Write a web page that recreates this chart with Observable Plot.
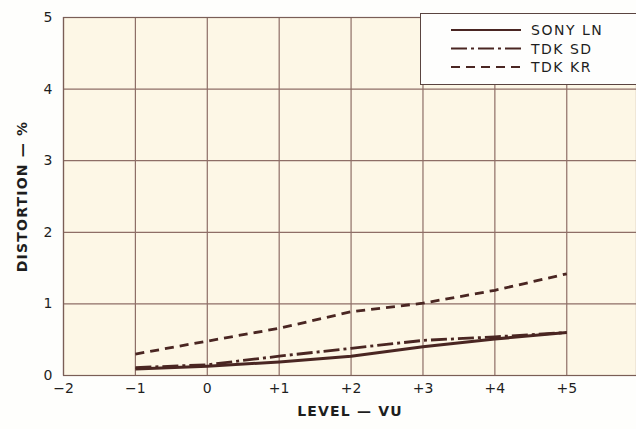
<!DOCTYPE html>
<html>
<head>
<meta charset="utf-8">
<script src="https://cdn.jsdelivr.net/npm/d3@7"></script>
<script src="https://cdn.jsdelivr.net/npm/@observablehq/plot@0.6"></script>
<style>
  html, body { margin: 0; padding: 0; background: #fefefc; }
  #wrap { position: relative; width: 636px; height: 429px; overflow: hidden; }
  #legend { position: absolute; left: 420px; top: 13px; width: 230px; height: 72px;
    background: #fefefd; border: 1.2px solid #5a4440; box-sizing: border-box; }
  #legend svg { display: block; }
</style>
</head>
<body>
<div id="wrap"></div>
<script>
const levels = [-1, 0, 1, 2, 3, 4, 5];
const sonyLN = [0.09, 0.13, 0.19, 0.27, 0.40, 0.51, 0.60];
const tdkSD  = [0.11, 0.15, 0.27, 0.38, 0.49, 0.54, 0.60];
const tdkKR  = [0.30, 0.48, 0.66, 0.89, 1.01, 1.19, 1.42];
const seriesNames = ["SONY LN", "TDK SD", "TDK KR"];
const xTicks = [-2, -1, 0, 1, 2, 3, 4, 5];
const yTicks = [0, 1, 2, 3, 4, 5];

const lineColor = "#4a2622";
const gridColor = "#8e6e66";
const dashes = { "SONY LN": null, "TDK SD": "16,4,3,4", "TDK KR": "9,6" };

const rows = [];
[sonyLN, tdkSD, tdkKR].forEach((vals, i) => {
  levels.forEach((l, j) => rows.push({ series: seriesNames[i], level: l, value: vals[j] }));
});

const fmtX = d => d > 0 ? "+" + d : d < 0 ? "\u2212" + (-d) : "0";
const fmtY = d => String(d);

const chart = Plot.plot({
  width: 636,
  height: 429,
  marginLeft: 63,
  marginRight: 0,
  marginTop: 17,
  marginBottom: 54,
  style: { fontFamily: "'DejaVu Sans', sans-serif", fontSize: "14px", color: "#1e1e1e", background: "transparent" },
  x: { domain: [-2, 5.97], ticks: xTicks, tickFormat: fmtX },
  y: { domain: [0, 5], ticks: yTicks, tickFormat: fmtY },
  marks: [
    Plot.frame({ fill: "#fdf7e6", stroke: null }),
    Plot.gridX(xTicks, { stroke: gridColor, strokeOpacity: 1, strokeWidth: 1.2 }),
    Plot.gridY(yTicks, { stroke: gridColor, strokeOpacity: 1, strokeWidth: 1.2 }),
    Plot.frame({ stroke: "#7a5e56", strokeWidth: 1.2 }),
    ...seriesNames.map(name => Plot.line(rows.filter(r => r.series === name), {
      x: "level", y: "value",
      stroke: lineColor,
      strokeWidth: name === "SONY LN" ? 3 : 2.8,
      strokeDasharray: dashes[name],
      strokeLinecap: "butt"
    })),
    Plot.axisX({ ticks: xTicks, tickFormat: fmtX, tickSize: 0, tickPadding: 8,
      label: "LEVEL \u2014 VU", labelAnchor: "center", labelOffset: 40, labelArrow: "none" }),
    Plot.axisY({ ticks: yTicks, tickFormat: fmtY, tickSize: 0, tickPadding: 11,
      label: "DISTORTION \u2014 %", labelAnchor: "center", labelOffset: 46, labelArrow: "none" })
  ]
});

d3.select(chart).selectAll("[aria-label='x-axis label'] text, [aria-label='y-axis label'] text")
  .attr("font-weight", "bold").attr("letter-spacing", "1.2px").attr("font-size", "14px");

const wrap = document.getElementById("wrap");
wrap.appendChild(chart);

// Legend
const legend = document.createElement("div");
legend.id = "legend";
wrap.appendChild(legend);
const lsvg = d3.select(legend).append("svg").attr("width", 230).attr("height", 72);
seriesNames.forEach((name, i) => {
  const y = 16 + i * 18.5;
  lsvg.append("line").attr("x1", 30).attr("x2", 100).attr("y1", y).attr("y2", y)
    .attr("stroke", lineColor).attr("stroke-width", 2.2)
    .attr("stroke-dasharray", dashes[name]);
  lsvg.append("text").attr("x", 110).attr("y", y + 5).text(name)
    .attr("font-family", "'DejaVu Sans', sans-serif").attr("font-size", "14px")
    .attr("letter-spacing", "1.5px").attr("fill", "#1e1e1e");
});
</script>
</body>
</html>
